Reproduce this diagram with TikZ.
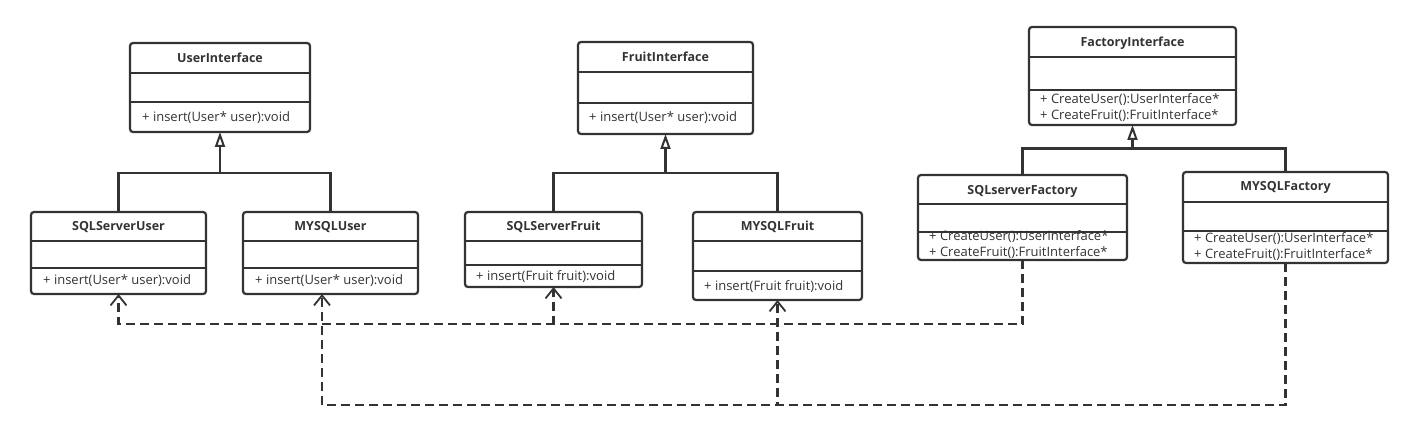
\documentclass[tikz,border=0pt]{standalone}
\usepackage{fontspec}
\setmainfont{Open Sans}
\usetikzlibrary{arrows.meta,calc}
\definecolor{ink}{HTML}{333333}
\tikzset{
  classbox/.style={draw=ink, line width=2.2pt, rounded corners=3pt, inner sep=0pt, outer sep=0pt, anchor=north west},
  sepline/.style={draw=ink, line width=1.6pt},
  titletext/.style={font=\fontsize{12.5}{14}\selectfont\bfseries, text=ink, inner sep=0pt},
  methtext/.style={font=\fontsize{13}{16}\selectfont, text=ink, inner sep=0pt, anchor=west, align=left},
  joinline/.style={draw=ink, line width=2.2pt},
  inherit/.style={draw=ink, line width=2.2pt, -{Triangle[open, length=15pt, width=10pt, line width=2pt]}},
  dep/.style={draw=ink, line width=2.2pt, dash pattern=on 9pt off 5pt, -{Straight Barb[length=10pt, width=16pt, line width=1.8pt]}},
}
\newcommand\umlbox[7]{%
  \node[classbox, minimum width={(#4)-(#2)}, minimum height={(#5)-(#3)}] (#1) at (#2,#3) {};
  \draw[sepline] (#2,#6) -- (#4,#6);
  \draw[sepline] (#2,#7) -- (#4,#7);
}
\begin{document}
\begin{tikzpicture}[x=1pt, y=-1pt]
\useasboundingbox (0,0) rectangle (1427,441);

% ---- classes ----
\umlbox{ui}{130}{43}{310}{132}{73}{102}
\node[titletext] (ui-t) at (220,58) {UserInterface};
\node[methtext] (ui-m) at (142,118) {+ insert(User* user):void};

\umlbox{squ}{31}{212}{206}{294}{241}{268}
\node[titletext] (squ-t) at (118.5,227) {SQLServerUser};
\node[methtext] (squ-m) at (43,281) {+ insert(User* user):void};

\umlbox{myu}{243}{212}{418}{294}{241}{268}
\node[titletext] (myu-t) at (330.5,227) {MYSQLUser};
\node[methtext] (myu-m) at (255,281) {+ insert(User* user):void};

\umlbox{fi}{578}{42}{753}{134}{72}{103}
\node[titletext] (fi-t) at (665.5,57) {FruitInterface};
\node[methtext] (fi-m) at (589,118) {+ insert(User* user):void};

\umlbox{sqf}{465}{212}{642}{287}{241}{265}
\node[titletext] (sqf-t) at (553.5,227) {SQLServerFruit};
\node[methtext] (sqf-m) at (476,277) {+ insert(Fruit fruit):void};

\umlbox{myf}{693}{212}{862}{300}{241}{271}
\node[titletext] (myf-t) at (777.5,227) {MYSQLFruit};
\node[methtext] (myf-m) at (704,287) {+ insert(Fruit fruit):void};

\umlbox{fai}{1029}{27}{1236}{125}{57}{90}
\node[titletext] (fai-t) at (1132.5,43) {FactoryInterface};
\node[methtext] (fai-m) at (1040,108) {+ CreateUser():UserInterface*\\+ CreateFruit():FruitInterface*};

\umlbox{sqfa}{918}{175}{1127}{260}{204}{232}
\node[titletext] (sqfa-t) at (1022.5,191) {SQLserverFactory};
\node[methtext] (sqfa-m) at (929,245) {+ CreateUser():UserInterface*\\+ CreateFruit():FruitInterface*};

\umlbox{myfa}{1183}{172}{1388}{263}{202}{231}
\node[titletext] (myfa-t) at (1285.5,187) {MYSQLFactory};
\node[methtext] (myfa-m) at (1194,247) {+ CreateUser():UserInterface*\\+ CreateFruit():FruitInterface*};

% ---- generalisation ----
\coordinate (ujoin) at (220,173);
\draw[inherit] (squ.north) |- (ujoin) -- (ui.south);
\draw[joinline] (myu.north) |- (ujoin);

\coordinate (fjoin) at (665.5,173);
\draw[inherit] (sqf.north) |- (fjoin) -- (fi.south);
\draw[joinline] (myf.north) |- (fjoin);

\coordinate (fajoin) at (1132.5,148.5);
\draw[inherit] (sqfa.north) |- (fajoin) -- (fai.south);
\draw[joinline] (myfa.north) |- (fajoin);

% ---- dependencies ----
\coordinate (bus1) at (0,324);
\coordinate (bus2) at (0,405);
\coordinate (myuin) at ([xshift=-8.5pt]myu.south);
\draw[dep] (sqfa.south) |- (squ.south |- bus1) -- (squ.south);
\draw[dep] (sqfa.south) |- (sqf.south |- bus1) -- (sqf.south);
\draw[dep] (myfa.south) |- (myuin |- bus2) -- (myuin);
\draw[dep] (myfa.south) |- (myf.south |- bus2) -- (myf.south);
\end{tikzpicture}
\end{document}
